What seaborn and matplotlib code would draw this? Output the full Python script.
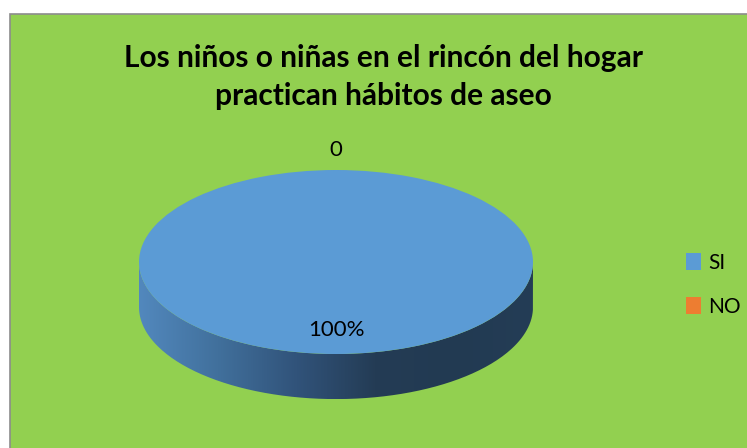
import numpy as np
import matplotlib.pyplot as plt
from matplotlib.colors import LinearSegmentedColormap
from matplotlib.patches import Rectangle, Patch, PathPatch
from matplotlib.path import Path
import seaborn as sns

# Datos del gráfico
titulo = "Los niños o niñas en el rincón del hogar\npractican hábitos de aseo"
categorias = ["SI", "NO"]
valores = [100, 0]
etiquetas = ["100%", "0"]

sns.set_theme(style="white")
plt.rcParams['font.family'] = ['Lato', 'DejaVu Sans']
plt.rcParams['text.color'] = 'black'

colores = ["#5b9bd5", "#ed7d31"]
verde = "#92d050"
distancias = [0.74, 1.22]   # distancia de cada etiqueta al centro
profundidad = 0.49          # grosor del "3D"

fig = plt.figure(figsize=(7.47, 4.48), dpi=100)
fig.patch.set_facecolor("white")
fondo = Rectangle((10 / 747, -0.05), 1.1, 1.05 - 14 / 448,
                  transform=fig.transFigure, facecolor=verde,
                  edgecolor="#8c8c8c", lw=1.2, zorder=-5)
fig.patches.append(fondo)

ax = fig.add_axes([40.5 / 747, 2 / 448, 591 / 747, 322 / 448])
ax.set_zorder(1)
ax.patch.set_alpha(0)

# pastel (cara superior)
wedges, _ = ax.pie(valores, colors=colores, startangle=90, counterclock=False,
                   wedgeprops=dict(linewidth=0))
for w in wedges:
    w.set_zorder(3)

# lateral del cilindro con degradado
t = np.linspace(np.pi, 2 * np.pi, 200)
xs = np.concatenate([np.cos(t), np.cos(t[::-1])])
ys = np.concatenate([np.sin(t), np.sin(t[::-1]) - profundidad])
lado = PathPatch(Path(np.column_stack([xs, ys])), facecolor="none", edgecolor="none")
ax.add_patch(lado)
cmap = LinearSegmentedColormap.from_list(
    "lado", ["#5288bd", "#41709c", "#31537a", "#243c55", "#223a52", "#243d56"])
grad = ax.imshow(np.linspace(0, 1, 256).reshape(1, -1), cmap=cmap, aspect="auto",
                 extent=(-1, 1, -1 - profundidad, 0), zorder=2)
grad.set_clip_path(lado)

# etiquetas de datos
for w, txt, r in zip(wedges, etiquetas, distancias):
    ang = np.deg2rad((w.theta1 + w.theta2) / 2)
    ax.text(r * np.cos(ang), r * np.sin(ang), txt, ha="center", va="center",
            fontsize=16, color="black", zorder=4)

ax.set_xlim(-1.5, 1.5)
ax.set_ylim(-2, 1.5)
ax.set_aspect("auto")
ax.axis("off")

fig.text(383 / 747, 1 - 77 / 448, titulo, ha="center", va="center", color="black",
         fontsize=21.5, fontweight="bold", linespacing=1.4)

handles = [Patch(facecolor=c, edgecolor="none") for c in colores]
fig.legend(handles, categorias, loc="center left", bbox_to_anchor=(676 / 747, 1 - 285 / 448),
           frameon=False, fontsize=15, handlelength=0.68, handleheight=0.9,
           handletextpad=0.35, labelspacing=1.15, borderpad=0)

plt.savefig("out.png", dpi=100, facecolor=fig.get_facecolor())
